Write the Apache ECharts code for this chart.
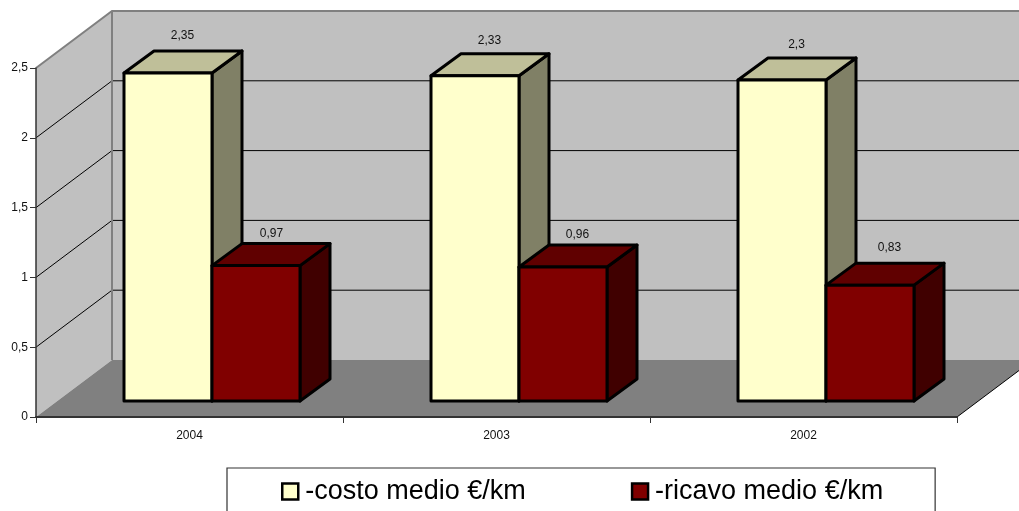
<!DOCTYPE html>
<html><head><meta charset="utf-8">
<style>html,body{margin:0;padding:0;background:#fff}#c{width:1019px;height:511px}</style>
<script src="https://cdn.jsdelivr.net/npm/echarts@6/dist/echarts.min.js"></script>
</head><body><div id="c"></div>
<script>
const categories = ['2004', '2003', '2002'];
const costo = [2.35, 2.33, 2.3];
const ricavo = [0.97, 0.96, 0.83];
const yTicks = [0, 0.5, 1, 1.5, 2, 2.5];
const seriesNames = ['-costo medio €/km', '-ricavo medio €/km'];

const FONT = '"Liberation Sans", Arial, sans-serif';
const WALL_DX = 76, WALL_DY = -57;     // depth of the 3D box
const BAR_DX = 30, BAR_DY = -22;       // depth of a bar
const BASE_DX = 22.5, BASE_DY = -16;   // bars stand inside the floor
const BAR_W_RATIO = 88 / 307;
const costoLabelNudge = [[0, 0], [0, 2], [0, 2]];
const ricavoLabelNudge = [[1, 5], [0, 5], [5, 0]];

const comma = v => String(v).replace('.', ',');

function renderWalls(params, api) {
  const cs = params.coordSys;
  const L = cs.x, R = cs.x + cs.width;
  const y0 = api.coord([0, 0])[1];
  const yTop = api.coord([0, yTicks[yTicks.length - 1]])[1];
  const bx = L + WALL_DX, farR = R + WALL_DX;
  const children = [
    { type: 'polygon', shape: { points: [[bx, yTop + WALL_DY], [farR, yTop + WALL_DY], [farR, y0 + WALL_DY], [bx, y0 + WALL_DY]] },
      style: { fill: '#C0C0C0' } },
    { type: 'polygon', shape: { points: [[L, y0], [bx, y0 + WALL_DY], [bx, yTop + WALL_DY], [L, yTop]] },
      style: { fill: '#C0C0C0' } },
    { type: 'polygon', shape: { points: [[L, y0], [R, y0], [farR, y0 + WALL_DY], [bx, y0 + WALL_DY]] },
      style: { fill: '#808080' } }
  ];
  yTicks.forEach(t => {
    if (t === 0 || t === yTicks[yTicks.length - 1]) return;
    const y = api.coord([0, t])[1];
    children.push({ type: 'polyline', shape: { points: [[L, y], [bx, y + WALL_DY], [farR, y + WALL_DY]] },
      style: { fill: 'none', stroke: '#000', lineWidth: 1 } });
  });
  children.push({ type: 'polyline', shape: { points: [[L, yTop], [bx, yTop + WALL_DY], [farR, yTop + WALL_DY]] },
    style: { fill: 'none', stroke: '#808080', lineWidth: 2 } });
  children.push({ type: 'polyline', shape: { points: [[bx, yTop + WALL_DY], [bx, y0 + WALL_DY]] },
    style: { fill: 'none', stroke: '#808080', lineWidth: 2 } });
  children.push({ type: 'polyline', shape: { points: [[R, y0], [farR, y0 + WALL_DY]] },
    style: { fill: 'none', stroke: '#000', lineWidth: 1 } });
  return { type: 'group', children };
}

function barRenderer(side, front, top, right, nudge) {
  return function (params, api) {
    const i = api.value(0), v = api.value(1);
    const w = api.size([1, 0])[0] * BAR_W_RATIO;
    const c = api.coord([i, v]);
    const y0 = api.coord([i, 0])[1] + BASE_DY;
    const yt = c[1] + BASE_DY;
    const x0 = c[0] + BASE_DX + (side < 0 ? -w : 0);
    const x1 = x0 + w;
    const st = fill => ({ fill, stroke: '#000', lineWidth: 3, lineJoin: 'round' });
    return { type: 'group', children: [
      { type: 'polygon', shape: { points: [[x1, yt], [x1 + BAR_DX, yt + BAR_DY], [x1 + BAR_DX, y0 + BAR_DY], [x1, y0]] }, style: st(right) },
      { type: 'polygon', shape: { points: [[x0, yt], [x0 + BAR_DX, yt + BAR_DY], [x1 + BAR_DX, yt + BAR_DY], [x1, yt]] }, style: st(top) },
      { type: 'polygon', shape: { points: [[x0, yt], [x1, yt], [x1, y0], [x0, y0]] }, style: st(front) },
      { type: 'text', style: { text: comma(v), x: (x0 + x1) / 2 + 14.5 + nudge[i][0], y: yt + BAR_DY - 15 + nudge[i][1], align: 'center', verticalAlign: 'middle',
          font: '12px ' + FONT, fill: '#111' } }
    ] };
  };
}

const chart = echarts.init(document.getElementById('c'), null, { renderer: 'canvas' });
chart.setOption({
  animation: false,
  backgroundColor: '#fff',
  grid: { left: 36, right: 62, top: 68, bottom: 94, containLabel: false },
  legend: {
    left: 227, top: 468, orient: 'horizontal',
    padding: [10, 52, 45, 54],
    backgroundColor: '#fff', borderColor: '#333', borderWidth: 1.2,
    itemWidth: 16, itemHeight: 16, itemGap: 105,
    textStyle: { fontFamily: FONT, fontSize: 27, color: '#000', padding: [0, 0, 0, 2] },
    data: seriesNames.map(n => ({ name: n, icon: 'rect' })),
    itemStyle: { borderColor: '#000', borderWidth: 2.5 },
    selectedMode: false
  },
  xAxis: {
    type: 'category', data: categories, z: 10,
    axisLine: { lineStyle: { color: '#333', width: 2 } },
    axisTick: { show: true, length: 6, alignWithLabel: false, lineStyle: { color: '#333' } },
    axisLabel: { fontFamily: FONT, fontSize: 12, color: '#111', margin: 13 },
    splitLine: { show: false }
  },
  yAxis: {
    type: 'value', min: 0, max: 2.5, interval: 0.5, z: 10,
    axisLine: { show: true, lineStyle: { color: '#333', width: 1.5 } },
    axisTick: { show: true, length: 6, lineStyle: { color: '#333' } },
    axisLabel: { fontFamily: FONT, fontSize: 12, color: '#111', margin: 8, formatter: comma },
    splitLine: { show: false }
  },
  series: [
    { type: 'custom', name: 'walls', silent: true, z: 1, data: [[0, 0]], renderItem: renderWalls, encode: { x: 0, y: 1 }, clip: false },
    { type: 'custom', name: seriesNames[0], silent: true, z: 2, itemStyle: { color: '#FFFFCC' },
      data: costo.map((v, i) => [i, v]), encode: { x: 0, y: 1 }, clip: false,
      renderItem: barRenderer(-1, '#FFFFCC', '#BFBF99', '#808066', costoLabelNudge) },
    { type: 'custom', name: seriesNames[1], silent: true, z: 3, itemStyle: { color: '#800000' },
      data: ricavo.map((v, i) => [i, v]), encode: { x: 0, y: 1 }, clip: false,
      renderItem: barRenderer(1, '#800000', '#600000', '#400000', ricavoLabelNudge) }
  ]
});
</script></body></html>
